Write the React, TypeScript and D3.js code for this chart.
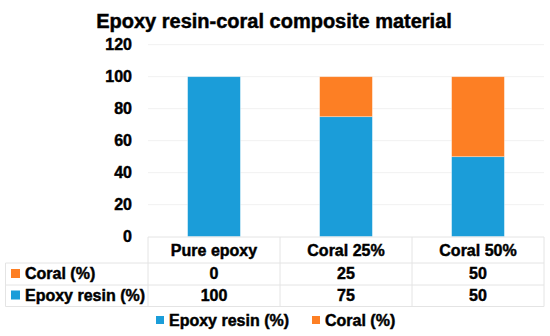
import { scaleBand, scaleLinear, stack } from "d3";

const categories = ["Pure epoxy", "Coral 25%", "Coral 50%"];
const epoxyValues = [100, 75, 50];
const coralValues = [0, 25, 50];
const yTicks = [0, 20, 40, 60, 80, 100, 120];

const BLUE = "#1b9dd9";
const ORANGE = "#fd7f24";
const FONT = "'Liberation Sans', Arial, sans-serif";

export default function App() {
  const width = 550;
  const height = 336;
  const left = 148;
  const right = 544;
  const top = 44.7;
  const bottom = 236.7;

  // table columns share the same band as the bars
  const col = scaleBand<string>().domain(categories).range([left, right]).padding(0);
  const x = scaleBand<string>()
    .domain(categories)
    .range([left, right])
    .paddingInner(0.6)
    .paddingOuter(0.3);
  const y = scaleLinear().domain([0, 120]).range([bottom, top]);

  const rows = categories.map((c, i) => ({ cat: c, epoxy: epoxyValues[i], coral: coralValues[i] }));
  const series = stack<(typeof rows)[number]>().keys(["epoxy", "coral"])(rows);
  const colors: Record<string, string> = { epoxy: BLUE, coral: ORANGE };

  // table rows
  const tableTop = 237;
  const rowLines = [263, 285, 306.5];
  const tableLeft = 5.5;
  const lineColor = "#e4e4e4";

  const tableRows = [
    { label: "Coral (%)", color: ORANGE, values: coralValues, cy: 273.5 },
    { label: "Epoxy resin (%)", color: BLUE, values: epoxyValues, cy: 295 },
  ];

  // heavier text like the original
  const txt = { fill: "#000", stroke: "#000", strokeWidth: 0.45 };

  return (
    <svg
      width={width}
      height={height}
      style={{ position: "absolute", left: 0, top: 0, background: "#fff" }}
      fontFamily={FONT}
      fontWeight="bold"
    >
      <text x={274} y={28} textAnchor="middle" fontSize={20} {...txt}>
        Epoxy resin-coral composite material
      </text>

      {/* gridlines */}
      {yTicks.map((t) =>
        t === 0 ? null : (
          <line key={t} x1={left} x2={right} y1={y(t)} y2={y(t)} stroke="#f1f1f1" strokeWidth={1} />
        )
      )}
      {yTicks.map((t) => (
        <text key={t} x={132} y={y(t)} dy="0.36em" textAnchor="end" fontSize={16} {...txt}>
          {t}
        </text>
      ))}

      {/* stacked bars */}
      {series.map((s) =>
        s.map((d, i) =>
          d[1] - d[0] > 0 ? (
            <rect
              key={s.key + i}
              x={x(categories[i])}
              width={x.bandwidth()}
              y={y(d[1])}
              height={y(d[0]) - y(d[1])}
              fill={colors[s.key]}
              stroke="#fff"
              strokeOpacity={0.5}
              strokeWidth={0.7}
            />
          ) : null
        )
      )}

      {/* data table */}
      <g stroke={lineColor} strokeWidth={1} fill="none">
        <line x1={left} x2={right} y1={tableTop} y2={tableTop} />
        {rowLines.map((ly) => (
          <line key={ly} x1={tableLeft} x2={right} y1={ly} y2={ly} />
        ))}
        <line x1={tableLeft} x2={tableLeft} y1={rowLines[0]} y2={rowLines[2]} />
        {categories.map((c) => (
          <line key={c} x1={col(c)} x2={col(c)} y1={tableTop} y2={rowLines[2]} />
        ))}
        <line x1={right} x2={right} y1={tableTop} y2={rowLines[2]} />
      </g>
      {categories.map((c) => (
        <text
          key={c}
          x={col(c)! + col.bandwidth() / 2}
          y={250}
          dy="0.36em"
          textAnchor="middle"
          fontSize={16}
          {...txt}
        >
          {c}
        </text>
      ))}
      {tableRows.map((r) => (
        <g key={r.label}>
          <rect x={11} y={r.cy - 4.5} width={9} height={9} fill={r.color} />
          <text x={25} y={r.cy} dy="0.36em" fontSize={16} {...txt}>
            {r.label}
          </text>
          {r.values.map((v, i) => (
            <text
              key={i}
              x={col(categories[i])! + col.bandwidth() / 2}
              y={r.cy}
              dy="0.36em"
              textAnchor="middle"
              fontSize={16}
              {...txt}
            >
              {v}
            </text>
          ))}
        </g>
      ))}

      {/* legend */}
      <g>
        <rect x={156} y={316} width={8} height={8} fill={BLUE} />
        <text x={169} y={320} dy="0.36em" fontSize={16} {...txt}>
          Epoxy resin (%)
        </text>
        <rect x={312} y={316} width={8} height={8} fill={ORANGE} />
        <text x={325} y={320} dy="0.36em" fontSize={16} {...txt}>
          Coral (%)
        </text>
      </g>
    </svg>
  );
}
